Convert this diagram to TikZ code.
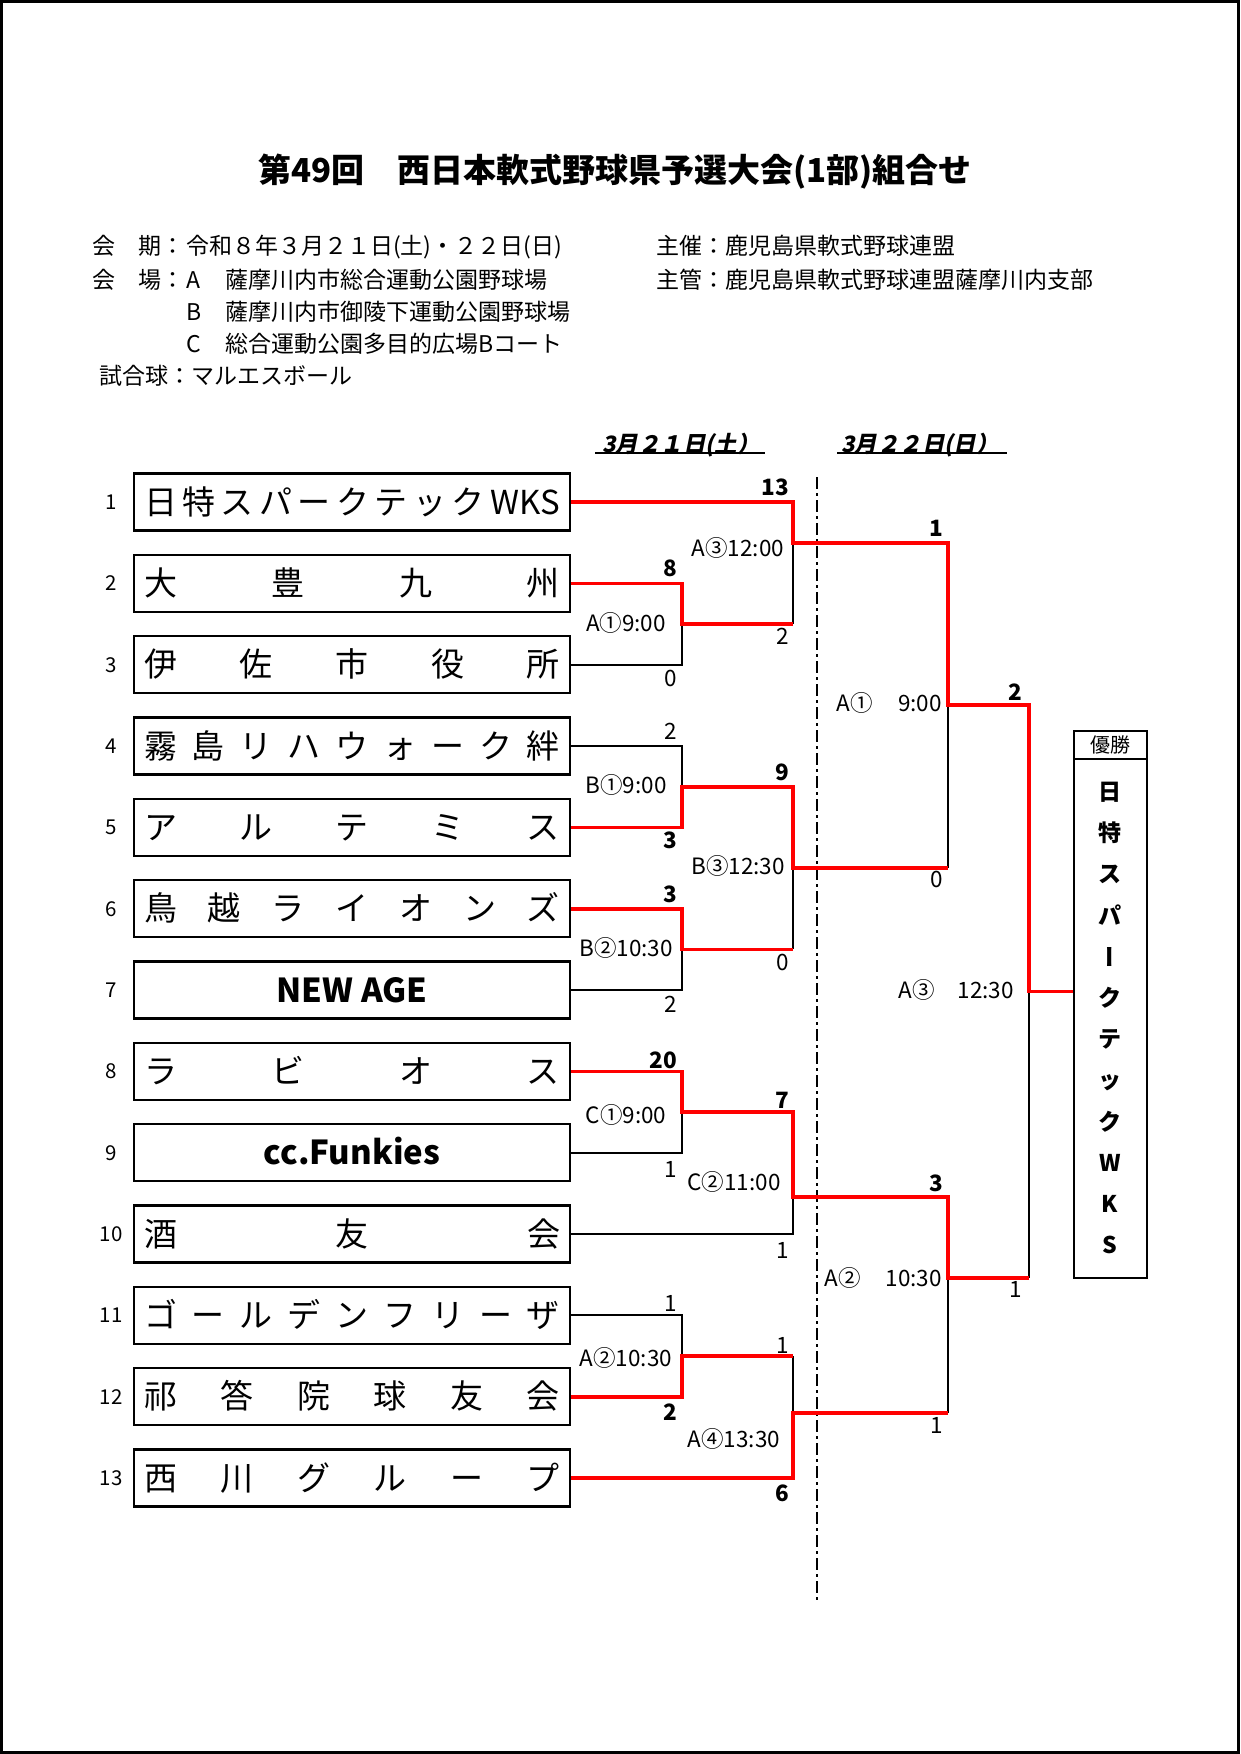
\documentclass[tikz,border=0pt]{standalone}
\usepackage{fontspec}
\setmainfont{Noto Sans CJK JP}
\newfontfamily\jpsl{Noto Sans CJK JP}[FakeSlant=0.2]
\begin{document}
\begin{tikzpicture}[x=1pt,y=-1pt,
  teambox/.style={draw, line width=2.2pt, minimum width=436pt, minimum height=57pt, inner sep=0pt,
    font=\fontsize{33}{33}\selectfont, text height=24.4pt, text depth=0pt},
  teamboxb/.style={teambox, font=\fontsize{33}{33}\selectfont\bfseries},
  tnum/.style={font=\fontsize{20.5}{20.5}\selectfont, inner sep=0pt, text height=15.2pt, text depth=0pt},
  lbl/.style={font=\fontsize{22.5}{22.5}\selectfont, inner sep=0pt, text height=16.6pt, text depth=0pt},
  sc/.style={lbl, anchor=east},
  scb/.style={sc, font=\fontsize{22.5}{22.5}\selectfont\bfseries},
  info/.style={font=\fontsize{23}{23}\selectfont, anchor=west, inner sep=0pt, text height=17pt, text depth=0pt},
  datef/.style={font=\fontsize{22.5}{22.5}\selectfont\jpsl\bfseries, inner sep=0pt, text height=16.6pt, text depth=0pt},
  vt/.style={font=\fontsize{23}{23}\selectfont\bfseries, inner sep=0pt, text height=17pt, text depth=0pt},
  redl/.style={draw=red, line width=3.6pt},
  blkl/.style={draw=black, line width=1.8pt},
  winbox/.style={draw, line width=2pt, minimum width=73pt, inner sep=0pt},
]
\useasboundingbox (0,0) rectangle (1240,1754);
\draw[line width=2.6pt] (1.3,1.3) rectangle (1238.7,1752.7);

% title
\node[font=\fontsize{33}{33}\selectfont\bfseries, inner sep=0pt, text height=24.4pt, text depth=0pt] (title) at (615,170) {第49回　西日本軟式野球県予選大会(1部)組合せ};

% info
\node[info] (i1a) at (92,246) {会　期：};
\node[info] (i1b) at (186,246) {令和８年３月２１日(土)・２２日(日)};
\node[info] (i1c) at (656,246) {主催：鹿児島県軟式野球連盟};
\node[info] (i2a) at (92,280) {会　場：};
\node[info] (i2b) at (186,280) {A};
\node[info] (i2c) at (225,280) {薩摩川内市総合運動公園野球場};
\node[info] (i2d) at (656,280) {主管：鹿児島県軟式野球連盟薩摩川内支部};
\node[info] (i3b) at (186,312) {B};
\node[info] (i3c) at (225,312) {薩摩川内市御陵下運動公園野球場};
\node[info] (i4b) at (186,344) {C};
\node[info] (i4c) at (225,344) {総合運動公園多目的広場Bコート};
\node[info] (i5a) at (99,376) {試合球：マルエスボール};

% date headers
\node[datef] (d1) at (681,444) {3月２１日(土）};
\node[datef] (d2) at (920,444) {3月２２日(日）};
\draw[line width=1.6pt] (595,453) -- (765,453);
\draw[line width=1.6pt] (837,453) -- (1007,453);

% dashed day separator
\coordinate (dtop) at (817,477);
\coordinate (dbot) at (817,1601);
\draw[line width=1.6pt, dash pattern=on 12pt off 4pt on 3pt off 4pt] (dtop) -- (dbot);

% team boxes
\node[teambox] (t1) at (352,502.0) {\makebox[416pt][s]{日\hfill 特\hfill ス\hfill パ\hfill ー\hfill ク\hfill テ\hfill ッ\hfill ク\hfill WKS}};
\node[teambox] (t2) at (352,583.3) {\makebox[416pt][s]{大\hfill 豊\hfill 九\hfill 州}};
\node[teambox] (t3) at (352,664.7) {\makebox[416pt][s]{伊\hfill 佐\hfill 市\hfill 役\hfill 所}};
\node[teambox] (t4) at (352,746.0) {\makebox[416pt][s]{霧\hfill 島\hfill リ\hfill ハ\hfill ウ\hfill ォ\hfill ー\hfill ク\hfill 絆}};
\node[teambox] (t5) at (352,827.3) {\makebox[416pt][s]{ア\hfill ル\hfill テ\hfill ミ\hfill ス}};
\node[teambox] (t6) at (352,908.7) {\makebox[416pt][s]{鳥\hfill 越\hfill ラ\hfill イ\hfill オ\hfill ン\hfill ズ}};
\node[teamboxb] (t7) at (352,990.0) {NEW AGE};
\node[teambox] (t8) at (352,1071.3) {\makebox[416pt][s]{ラ\hfill ビ\hfill オ\hfill ス}};
\node[teamboxb] (t9) at (352,1152.7) {cc.Funkies};
\node[teambox] (t10) at (352,1234.0) {\makebox[416pt][s]{酒\hfill 友\hfill 会}};
\node[teambox] (t11) at (352,1315.3) {\makebox[416pt][s]{ゴ\hfill ー\hfill ル\hfill デ\hfill ン\hfill フ\hfill リ\hfill ー\hfill ザ}};
\node[teambox] (t12) at (352,1396.7) {\makebox[416pt][s]{祁\hfill 答\hfill 院\hfill 球\hfill 友\hfill 会}};
\node[teambox] (t13) at (352,1478.0) {\makebox[416pt][s]{西\hfill 川\hfill グ\hfill ル\hfill ー\hfill プ}};

% team numbers
\node[tnum] (k1) at (111,502.0) {1};
\node[tnum] (k2) at (111,583.3) {2};
\node[tnum] (k3) at (111,664.7) {3};
\node[tnum] (k4) at (111,746.0) {4};
\node[tnum] (k5) at (111,827.3) {5};
\node[tnum] (k6) at (111,908.7) {6};
\node[tnum] (k7) at (111,990.0) {7};
\node[tnum] (k8) at (111,1071.3) {8};
\node[tnum] (k9) at (111,1152.7) {9};
\node[tnum] (k10) at (111,1234.0) {10};
\node[tnum] (k11) at (111,1315.3) {11};
\node[tnum] (k12) at (111,1396.7) {12};
\node[tnum] (k13) at (111,1478.0) {13};

% winner box
\node[winbox, minimum height=28pt, font=\fontsize{20}{20}\selectfont, text height=14.8pt, text depth=0pt] (whead) at (1110.5,745) {優勝};
\node[winbox, minimum height=519pt] (win) at (1110.5,1018.5) {};
\node[vt] (w1) at (1110,792.0) {日};
\node[vt] (w2) at (1110,833.2) {特};
\node[vt] (w3) at (1110,874.4) {ス};
\node[vt] (w4) at (1110,915.6) {パ};
\node[vt, rotate=90] (w5) at (1110,956.8) {ー};
\node[vt] (w6) at (1110,998.0) {ク};
\node[vt] (w7) at (1110,1039.2) {テ};
\node[vt] (w8) at (1110,1080.4) {ッ};
\node[vt] (w9) at (1110,1121.6) {ク};
\node[vt] (w10) at (1110,1162.8) {W};
\node[vt] (w11) at (1110,1204.0) {K};
\node[vt] (w12) at (1110,1245.2) {S};

% bracket junctions
\coordinate (m1o) at (682,624);
\coordinate (m2o) at (682,786.7);
\coordinate (m3o) at (682,949.3);
\coordinate (m4o) at (682,1112);
\coordinate (m5o) at (682,1356);
\coordinate (n1o) at (793,543);
\coordinate (n2o) at (793,868);
\coordinate (n3o) at (793,1197);
\coordinate (n4o) at (793,1413);
\coordinate (p1o) at (948,705);
\coordinate (p2o) at (948,1278);
\coordinate (qo) at (1029,991.5);

% black (losing) lines
\draw[blkl] (t3.east) -| (m1o);
\draw[blkl] (m1o -| n1o) -- (n1o);
\draw[blkl] (t4.east) -| (m2o);
\draw[blkl] (t7.east) -| (m3o);
\draw[blkl] (m3o -| n2o) -- (n2o);
\draw[blkl] (n2o -| p1o) -- (p1o);
\draw[blkl] (t9.east) -| (m4o);
\draw[blkl] (t10.east) -| (n3o);
\draw[blkl] (t11.east) -| (m5o);
\draw[blkl] (m5o -| n4o) -- (n4o);
\draw[blkl] (n4o -| p2o) -- (p2o);
\draw[blkl] (p2o -| qo) -- (qo);

% red (winning) lines
\draw[redl] (t1.east) -| (n1o) -| (p1o) -| (qo) -- (qo -| win.west);
\draw[redl] (t2.east) -| (m1o) -- (m1o -| n1o);
\draw[redl] (t5.east) -| (m2o) -| (n2o) -- (n2o -| p1o);
\draw[redl] (t6.east) -| (m3o) -- (m3o -| n2o);
\draw[redl] (t8.east) -| (m4o) -| (n3o) -| (p2o) -- (p2o -| qo);
\draw[redl] (t12.east) -| (m5o) -- (m5o -| n4o);
\draw[redl] (t13.east) -| (n4o) -- (n4o -| p2o);

% round 1 scores
\node[scb] (s2) at (677,568) {8};
\node[sc] (s3) at (677,678) {0};
\node[sc] (s4) at (677,731) {2};
\node[scb] (s5) at (677,840) {3};
\node[scb] (s6) at (677,894) {3};
\node[sc] (s7) at (677,1004) {2};
\node[scb] (s8) at (677,1060) {20};
\node[sc] (s9) at (677,1169) {1};
\node[sc] (s11) at (677,1303) {1};
\node[scb] (s12) at (677,1412) {2};
% round 2 scores
\node[scb] (u1) at (789,487) {13};
\node[sc] (u2) at (789,636) {2};
\node[scb] (u3) at (789,772) {9};
\node[sc] (u4) at (789,962) {0};
\node[scb] (u5) at (789,1100) {7};
\node[sc] (u6) at (789,1250) {1};
\node[sc] (u7) at (789,1345) {1};
\node[scb] (u8) at (789,1493) {6};
% round 3 scores
\node[scb] (v1) at (943,528) {1};
\node[sc] (v2) at (943,879) {0};
\node[scb] (v3) at (943,1183) {3};
\node[sc] (v4) at (943,1425) {1};
% final scores
\node[scb] (f1) at (1022,692) {2};
\node[sc] (f2) at (1022,1289) {1};

% match labels
\node[lbl] (g1) at (626,623) {A①9:00};
\node[lbl] (g2) at (626,785) {B①9:00};
\node[lbl] (g3) at (626,948) {B②10:30};
\node[lbl] (g4) at (626,1115) {C①9:00};
\node[lbl] (g5) at (626,1358) {A②10:30};
\node[lbl] (h1) at (738,548) {A③12:00};
\node[lbl] (h2) at (738,866) {B③12:30};
\node[lbl] (h3) at (734,1182) {C②11:00};
\node[lbl] (h4) at (734,1439) {A④13:30};
\node[lbl] (j1a) at (855,703) {A①};
\node[lbl, anchor=east] (j1b) at (942,703) {9:00};
\node[lbl] (j2a) at (843,1278) {A②};
\node[lbl, anchor=east] (j2b) at (942,1278) {10:30};
\node[lbl] (j3a) at (917,990) {A③};
\node[lbl, anchor=east] (j3b) at (1014,990) {12:30};
\end{tikzpicture}
\end{document}
